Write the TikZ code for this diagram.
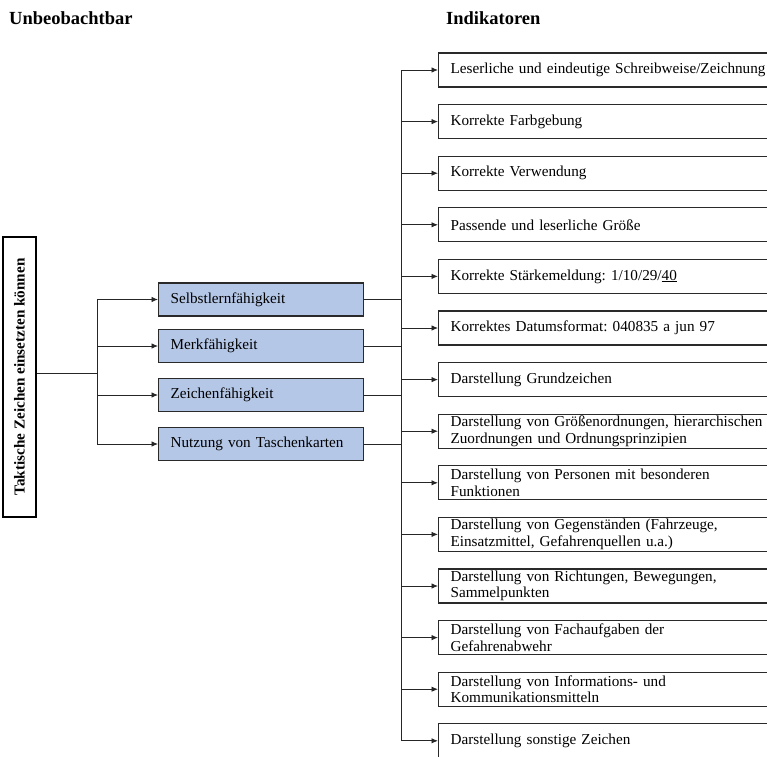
\documentclass[tikz,border=0pt]{standalone}
\usepackage{fontspec}
\setmainfont{Liberation Serif}
\usetikzlibrary{arrows.meta}
\definecolor{boxblue}{HTML}{B4C7E7}
\definecolor{edgegray}{HTML}{2A2A2A}
\tikzset{
  conn/.style={draw=black!85, line width=0.9pt},
  arr/.style={conn, -{Latex[length=6.5pt,width=5.5pt]}},
  heading/.style={anchor=west, inner sep=0pt, font=\fontsize{18.5}{20}\selectfont\bfseries},
  rootbox/.style={draw=black, line width=1.1pt, rotate=90, minimum width=280pt, minimum height=33pt,
    inner sep=0pt, font=\fontsize{15.2}{16}\selectfont\bfseries},
  midbox/.style={draw=edgegray, line width=1.2pt, fill=boxblue, anchor=west, minimum width=205pt,
    minimum height=33pt, text width=181pt, inner xsep=12pt, inner ysep=0pt, align=left,
    font=\fontsize{15.2}{16.5}\selectfont},
  indbox/.style={draw=edgegray, line width=1.2pt, anchor=west, minimum height=34pt,
    text width=330pt, inner xsep=12pt, inner ysep=0pt, align=left,
    font=\fontsize{15.2}{16.5}\selectfont},
}
\begin{document}
\frenchspacing
\begin{tikzpicture}[x=1pt, y=-1pt]
\useasboundingbox (0,0) rectangle (767,756);
\clip (0,0) rectangle (767,756);

% column headings
\node[heading] (hleft) at (9,18) {Unbeobachtbar};
\node[heading] (hright) at (446,18) {Indikatoren};

% construct
\node[rootbox] (root) at (19.5,377) {Taktische Zeichen einsetzten können};

% abilities
\node[midbox] (m1) at (158,299.5) {Selbstlernfähigkeit};
\node[midbox] (m2) at (158,346) {Merkfähigkeit};
\node[midbox] (m3) at (158,395) {Zeichenfähigkeit};
\node[midbox] (m4) at (158,444) {Nutzung von Taschenkarten};

% indicators
\node[indbox] (r1)  at (438,70)    {Leserliche und eindeutige Schreibweise/Zeichnung};
\node[indbox] (r2)  at (438,121.6) {Korrekte Farbgebung};
\node[indbox] (r3)  at (438,173.2) {Korrekte Verwendung};
\node[indbox] (r4)  at (438,224.8) {Passende und leserliche Größe};
\node[indbox] (r5)  at (438,276.4) {Korrekte Stärkemeldung: 1/10/29/\underline{40}};
\node[indbox] (r6)  at (438,328)   {Korrektes Datumsformat: 040835 a jun 97};
\node[indbox] (r7)  at (438,379.6) {Darstellung Grundzeichen};
\node[indbox] (r8)  at (438,431.2) {Darstellung von Größenordnungen, hierarchischen\\Zuordnungen und Ordnungsprinzipien};
\node[indbox] (r9)  at (438,482.8) {Darstellung von Personen mit besonderen\\Funktionen};
\node[indbox] (r10) at (438,534.4) {Darstellung von Gegenständen (Fahrzeuge,\\Einsatzmittel, Gefahrenquellen u.a.)};
\node[indbox] (r11) at (438,586)   {Darstellung von Richtungen, Bewegungen,\\Sammelpunkten};
\node[indbox] (r12) at (438,637.6) {Darstellung von Fachaufgaben der\\Gefahrenabwehr};
\node[indbox] (r13) at (438,689.2) {Darstellung von Informations- und\\Kommunikationsmitteln};
\node[indbox] (r14) at (438,740.8) {Darstellung sonstige Zeichen};

% bus lines
\coordinate (busL) at (97,373);
\coordinate (busR) at (401,373);

% construct -> abilities
\draw[conn] (root.south |- busL) -- (busL);
\draw[conn] (busL |- m1) -- (busL |- m4);
\foreach \m in {m1,m2,m3,m4}
  \draw[arr] (busL |- \m) -- (\m.west);

% abilities -> indicators
\foreach \m in {m1,m2,m3,m4}
  \draw[conn] (\m.east) -- (busR |- \m);
\draw[conn] (busR |- r1) -- (busR |- r14);
\foreach \r in {r1,r2,r3,r4,r5,r6,r7,r8,r9,r10,r11,r12,r13,r14}
  \draw[arr] (busR |- \r) -- (\r.west);
\end{tikzpicture}
\end{document}
